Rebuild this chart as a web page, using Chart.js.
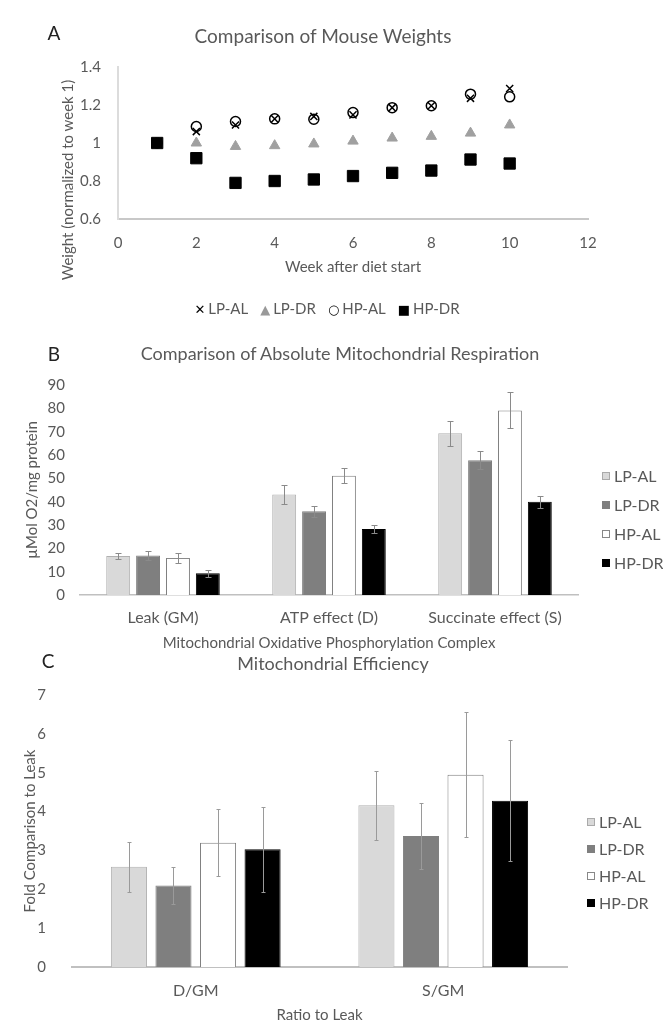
<!DOCTYPE html>
<html>
<head>
<meta charset="utf-8">
<script src="https://cdn.jsdelivr.net/npm/chart.js@4.4.1/dist/chart.umd.min.js"></script>
<style>
  body { margin: 0; background: #fff; font-family: Lato, "Open Sans", sans-serif; color: #595959; }
  #page { position: relative; width: 663px; height: 1026px; overflow: hidden; }
  canvas { position: absolute; left: 0; }
  .txt { position: absolute; white-space: nowrap; transform: translate(-50%, -50%); }
  .letter { color: #222; font-size: 19px; }
  .legend-col { position: absolute; font-size: 16px; white-space: nowrap; width: 70px; }
  .legend-col div { display: flex; align-items: center; }
  .sw { display: inline-block; width: 8px; height: 8px; margin-right: 4px; box-sizing: border-box; flex: none; }
  #legA { display: flex; gap: 12px; font-size: 15px; }
  #legA span.s { margin-right: 3px; font-family: "DejaVu Sans", sans-serif; font-size: 13px; }
</style>
</head>
<body>
<div id="page">
  <canvas id="chartA" width="663" height="330" style="top:0"></canvas>
  <canvas id="chartB" width="663" height="322" style="top:330px"></canvas>
  <canvas id="chartC" width="663" height="376" style="top:650px"></canvas>

  <div class="txt letter" style="left:54px;top:32px">A</div>
  <div class="txt" style="left:323px;top:35px;font-size:19px">Comparison of Mouse Weights</div>
  <div class="txt" style="left:67px;top:180px;font-size:15px;transform:translate(-50%,-50%) rotate(-90deg)">Weight (normalized to week 1)</div>
  <div id="legA" class="txt" style="left:327px;top:308px">
    <div><span class="s" style="color:#000">✕</span>LP-AL</div>
    <div><span class="s" style="color:#999">▲</span>LP-DR</div>
    <div><span class="s" style="color:#000">○</span>HP-AL</div>
    <div><span class="s" style="color:#000">■</span>HP-DR</div>
  </div>

  <div class="txt letter" style="left:54px;top:353px">B</div>
  <div class="txt" style="left:340px;top:353px;font-size:18px">Comparison of Absolute Mitochondrial Respiration</div>
  <div class="legend-col" style="left:602px;top:461px;line-height:29px">
    <div><span class="sw" style="background:#d9d9d9;border:1px solid #aaa"></span>LP-AL</div>
    <div><span class="sw" style="background:#7f7f7f"></span>LP-DR</div>
    <div><span class="sw" style="background:#fff;border:1px solid #888"></span>HP-AL</div>
    <div><span class="sw" style="background:#000"></span>HP-DR</div>
  </div>

  <div class="txt letter" style="left:48px;top:660px">C</div>
  <div class="txt" style="left:333px;top:663px;font-size:18px">Mitochondrial Efficiency</div>
  <div class="legend-col" style="left:587px;top:808px;line-height:27px">
    <div><span class="sw" style="background:#d9d9d9;border:1px solid #aaa"></span>LP-AL</div>
    <div><span class="sw" style="background:#7f7f7f"></span>LP-DR</div>
    <div><span class="sw" style="background:#fff;border:1px solid #888"></span>HP-AL</div>
    <div><span class="sw" style="background:#000"></span>HP-DR</div>
  </div>
</div>

<script>
// Panel A - mouse weights (normalized to week 1)
const weeks = [1, 2, 3, 4, 5, 6, 7, 8, 9, 10];
const weightLpAl = [1, 1.06, 1.095, 1.127, 1.14, 1.148, 1.186, 1.196, 1.235, 1.287];
const weightLpDr = [1, 1.0, 0.982, 0.986, 0.995, 1.01, 1.026, 1.035, 1.052, 1.095];
const weightHpAl = [1, 1.087, 1.113, 1.127, 1.125, 1.16, 1.186, 1.196, 1.257, 1.243];
const weightHpDr = [1, 0.92, 0.79, 0.80, 0.808, 0.826, 0.843, 0.855, 0.913, 0.892];
const weightTicksY = [0.6, 0.8, 1, 1.2, 1.4];

// Panel B - absolute respiration
const respCategories = ["Leak (GM)", "ATP effect (D)", "Succinate effect (S)"];
const respLpAl = [16.7, 43.1, 69.3];
const respLpDr = [16.9, 35.9, 57.7];
const respHpAl = [15.9, 51.1, 79.1];
const respHpDr = [9.3, 28.3, 40.0];
const respErrLpAl = [1.1, 4.0, 5.4];
const respErrLpDr = [1.8, 2.3, 3.9];
const respErrHpAl = [2.0, 3.3, 7.7];
const respErrHpDr = [1.6, 1.7, 2.6];

// Panel C - efficiency
const effCategories = ["D/GM", "S/GM"];
const effLpAl = [2.58, 4.16];
const effLpDr = [2.1, 3.37];
const effHpAl = [3.2, 4.95];
const effHpDr = [3.03, 4.28];
const effErrLpAl = [0.64, 0.88];
const effErrLpDr = [0.48, 0.84];
const effErrHpAl = [0.86, 1.6];
const effErrHpDr = [1.09, 1.56];

const textGray = "#595959";
const font = "Lato";

function toXY(ys) {
  return weeks.map((w, i) => ({ x: w, y: ys[i] }));
}

//error bar plugin
const errorBars = {
  id: "errorBars",
  afterDatasetsDraw(chart, args, opts) {
    const ctx = chart.ctx;
    const yScale = chart.scales.y;
    chart.data.datasets.forEach((ds, i) => {
      const meta = chart.getDatasetMeta(i);
      meta.data.forEach((bar, j) => {
        const v = ds.data[j];
        const e = ds.errors[j];
        const x = Math.round(bar.x) + 0.5;
        const top = Math.round(yScale.getPixelForValue(v + e)) + 0.5;
        const bot = Math.round(yScale.getPixelForValue(v - e)) + 0.5;
        ctx.save();
        ctx.strokeStyle = opts.color;
        ctx.lineWidth = 1;
        ctx.beginPath();
        ctx.moveTo(x, top);
        ctx.lineTo(x, bot);
        ctx.moveTo(x - opts.cap, top);
        ctx.lineTo(x + opts.cap, top);
        ctx.moveTo(x - opts.cap, bot);
        ctx.lineTo(x + opts.cap, bot);
        ctx.stroke();
        ctx.restore();
      });
    });
  },
};

Chart.defaults.font.family = font;
Chart.defaults.color = textGray;
Chart.defaults.animation = false;

//Panel A
new Chart(document.getElementById("chartA"), {
  type: "scatter",
  data: {
    datasets: [
      { label: "HP-DR", data: toXY(weightHpDr), pointStyle: "rect", pointRadius: 8, backgroundColor: "#000", borderColor: "#000", order: 0 },
      { label: "LP-AL", data: toXY(weightLpAl), pointStyle: "crossRot", pointRadius: 5, borderColor: "#000", borderWidth: 1.5, order: 1 },
      { label: "LP-DR", data: toXY(weightLpDr), pointStyle: "triangle", pointRadius: 6, backgroundColor: "#a0a0a0", borderColor: "#a0a0a0", order: 2 },
      { label: "HP-AL", data: toXY(weightHpAl), pointStyle: "circle", pointRadius: 5, backgroundColor: "rgba(255,255,255,0)", borderColor: "#000", borderWidth: 1.5, order: 3 },
    ],
  },
  options: {
    responsive: false,
    layout: { padding: { left: 0, right: 75, top: 67, bottom: 51 } },
    plugins: { legend: { display: false }, tooltip: { enabled: false } },
    scales: {
      x: {
        min: 0, max: 12,
        ticks: { stepSize: 2, padding: 15, font: { size: 15 } },
        grid: { display: false, drawTicks: false },
        border: { display: true, color: "#c8c8c8", width: 2 },
        title: { display: true, text: "Week after diet start", font: { size: 15 }, padding: { top: 0, bottom: 3 } },
        afterFit(scale) { scale.height = 60; },
      },
      y: {
        min: 0.6, max: 1.4,
        afterBuildTicks(scale) { scale.ticks = weightTicksY.map((v) => ({ value: v })); },
        ticks: { padding: 17, font: { size: 15 }, callback: (v) => String(v) },
        grid: { display: false, drawTicks: false },
        border: { display: true, color: "#dcdcdc", width: 2 },
        afterFit(scale) { scale.width = 118; },
      },
    },
  },
});

//Panel B
new Chart(document.getElementById("chartB"), {
  type: "bar",
  data: {
    labels: respCategories,
    datasets: [
      { label: "LP-AL", data: respLpAl, errors: respErrLpAl, backgroundColor: "#d9d9d9", borderColor: "#b0b0b0", borderWidth: 1 },
      { label: "LP-DR", data: respLpDr, errors: respErrLpDr, backgroundColor: "#7f7f7f", borderColor: "#7f7f7f", borderWidth: 1 },
      { label: "HP-AL", data: respHpAl, errors: respErrHpAl, backgroundColor: "#ffffff", borderColor: "#7f7f7f", borderWidth: 1 },
      { label: "HP-DR", data: respHpDr, errors: respErrHpDr, backgroundColor: "#000000", borderColor: "#000000", borderWidth: 1 },
    ],
  },
  plugins: [errorBars],
  options: {
    responsive: false,
    categoryPercentage: 0.72,
    barPercentage: 0.8,
    layout: { padding: { left: 0, right: 85, top: 55, bottom: 0 } },
    plugins: {
      legend: { display: false },
      tooltip: { enabled: false },
      errorBars: { color: "#8a8a8a", cap: 3 },
    },
    scales: {
      x: {
        ticks: { padding: 13, font: { size: 16 } },
        grid: { display: false, drawTicks: false },
        border: { display: true, color: "#c0c0c0", width: 1.5 },
        title: { display: true, text: "Mitochondrial Oxidative Phosphorylation Complex", font: { size: 15 }, padding: { top: 0, bottom: 0 } },
        afterFit(scale) { scale.height = 57; },
      },
      y: {
        min: 0, max: 90,
        ticks: { stepSize: 10, padding: 15, font: { size: 15 } },
        grid: { display: false, drawTicks: false },
        border: { display: false },
        title: { display: true, text: "µMol O2/mg protein", font: { size: 15 }, padding: { top: 23, bottom: 0 } },
        afterFit(scale) { scale.width = 80; },
      },
    },
  },
});

//Panel C
new Chart(document.getElementById("chartC"), {
  type: "bar",
  data: {
    labels: effCategories,
    datasets: [
      { label: "LP-AL", data: effLpAl, errors: effErrLpAl, backgroundColor: "#d9d9d9", borderColor: "#b0b0b0", borderWidth: 1 },
      { label: "LP-DR", data: effLpDr, errors: effErrLpDr, backgroundColor: "#7f7f7f", borderColor: "#7f7f7f", borderWidth: 1 },
      { label: "HP-AL", data: effHpAl, errors: effErrHpAl, backgroundColor: "#ffffff", borderColor: "#7f7f7f", borderWidth: 1 },
      { label: "HP-DR", data: effHpDr, errors: effErrHpDr, backgroundColor: "#000000", borderColor: "#000000", borderWidth: 1 },
    ],
  },
  plugins: [errorBars],
  options: {
    responsive: false,
    categoryPercentage: 0.72,
    barPercentage: 0.81,
    layout: { padding: { left: 0, right: 96, top: 45, bottom: 0 } },
    plugins: {
      legend: { display: false },
      tooltip: { enabled: false },
      errorBars: { color: "#9a9a9a", cap: 2 },
    },
    scales: {
      x: {
        ticks: { padding: 14, font: { size: 16 } },
        grid: { display: false, drawTicks: false },
        border: { display: true, color: "#c0c0c0", width: 2 },
        title: { display: true, text: "Ratio to Leak", font: { size: 15 }, padding: { top: 0, bottom: 2 } },
        afterFit(scale) { scale.height = 59; },
      },
      y: {
        min: 0, max: 7,
        ticks: { stepSize: 1, padding: 26, font: { size: 15 } },
        grid: { display: false, drawTicks: false },
        border: { display: false },
        title: { display: true, text: "Fold Comparison to Leak", font: { size: 15 }, padding: { top: 21, bottom: 0 } },
        afterFit(scale) { scale.width = 72; },
      },
    },
  },
});
</script>
</body>
</html>
